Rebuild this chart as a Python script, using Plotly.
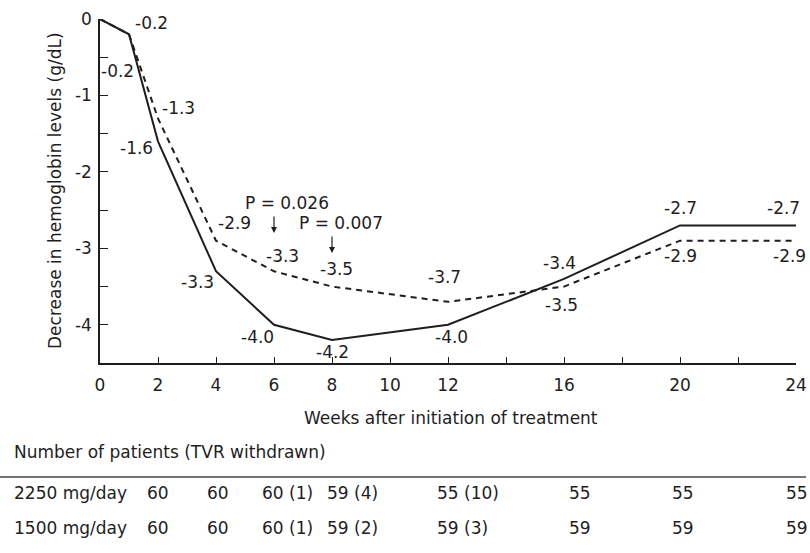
import plotly.graph_objects as go

# ---------------- data ----------------
weeks = [0, 1, 2, 4, 6, 8, 12, 16, 20, 24]
dose_2250 = [0, -0.2, -1.6, -3.3, -4.0, -4.2, -4.0, -3.4, -2.7, -2.7]
dose_1500 = [0, -0.2, -1.3, -2.9, -3.3, -3.5, -3.7, -3.5, -2.9, -2.9]

x_tick_vals = [0, 2, 4, 6, 8, 10, 12, 14, 16, 18, 20, 22, 24]
x_tick_text = ["0", "2", "4", "6", "8", "10", "12", "", "16", "", "20", "", "24"]
y_tick_vals = [0, -1, -2, -3, -4]
y_tick_text = ["0", "-1", "-2", "-3", "-4"]

p_labels = ["P = 0.026", "P = 0.007"]
p_weeks = [6, 8]

table_title = "Number of patients (TVR withdrawn)"
row_names = ["2250 mg/day", "1500 mg/day"]
row_2250 = ["60", "60", "60 (1)", "59 (4)", "55 (10)", "55", "55", "55"]
row_1500 = ["60", "60", "60 (1)", "59 (2)", "59 (3)", "59", "59", "59"]

# ---------------- layout constants ----------------
W, H = 810, 553
ML, MR, MT, MB = 100, 14, 19, 190
PW, PH = W - ML - MR, H - MT - MB
FONT = "DejaVu Sans"
FS = 17
INK = "#1e1e1e"


def px_x(p):
    return (p - ML) / PW


def px_y(p):
    return (H - MB - p) / PH


def txt(**kw):
    d = dict(showarrow=False, xanchor="center", yanchor="middle",
             font=dict(family=FONT, size=FS, color=INK))
    d.update(kw)
    return d


# label pixel offsets (dx, dy-down) for points 1..9
off_2250 = [(22, -11), (-22, 7), (-19, 11), (-17, 12), (0, 12), (3, 12), (-5, -16), (0, -17), (-13, -17)]
off_1500 = [(-12, 37), (20, -10), (18, -18), (8, -15), (4, -18), (-4, -25), (-3, 18), (0, 15), (-7, 15)]

fig = go.Figure()
fig.add_trace(go.Scatter(x=weeks, y=dose_2250, mode="lines", name="2250 mg/day",
                         line=dict(color=INK, width=2)))
fig.add_trace(go.Scatter(x=weeks, y=dose_1500, mode="lines", name="1500 mg/day",
                         line=dict(color=INK, width=2, dash="6px,5px")))

ann = []
for series, offs in ((dose_2250, off_2250), (dose_1500, off_1500)):
    for i, (dx, dy) in zip(range(1, len(weeks)), offs):
        ann.append(txt(x=weeks[i], y=series[i], xref="x", yref="y", text=f"{series[i]:.1f}",
                       xshift=dx, yshift=-dy))

# P-value labels and arrows
p_text_pos = [(287, 203), (341, 223)]
p_arrow_tip = [233, 253]
for lab, wk, (tx, ty), tip in zip(p_labels, p_weeks, p_text_pos, p_arrow_tip):
    ann.append(txt(x=px_x(tx), y=px_y(ty), xref="paper", yref="paper", text=lab))
    ann.append(dict(x=wk, y=px_y(tip), xref="x", yref="paper", text="", showarrow=True,
                    ax=0, ay=-18, arrowhead=2, arrowsize=1, arrowwidth=1.2, arrowcolor=INK))

# axis titles
ann.append(txt(x=px_x(55), y=px_y(191), xref="paper", yref="paper",
               text="Decrease in hemoglobin levels (g/dL)", textangle=-90))
ann.append(txt(x=px_x(451), y=px_y(418), xref="paper", yref="paper",
               text="Weeks after initiation of treatment"))

# table
ann.append(txt(x=px_x(12), y=px_y(452), xref="paper", yref="paper", text=table_title, xanchor="left"))
col_left_px = [145, 205, 260, 325, 435, 567, 670, 784]
row_y_px = [493, 528]
for name, row, ry in zip(row_names, (row_2250, row_1500), row_y_px):
    ann.append(txt(x=px_x(12), y=px_y(ry), xref="paper", yref="paper", text=name, xanchor="left"))
    for val, cx in zip(row, col_left_px):
        ann.append(txt(x=px_x(cx), y=px_y(ry), xref="paper", yref="paper", text=val, xanchor="left"))

shapes = [dict(type="line", xref="paper", yref="paper", x0=px_x(0), x1=px_x(806),
               y0=px_y(477), y1=px_y(477), line=dict(color="#444", width=1.5))]

fig.update_layout(
    width=W, height=H, margin=dict(l=ML, r=MR, t=MT, b=MB, autoexpand=False),
    paper_bgcolor="white", plot_bgcolor="white", showlegend=False,
    font=dict(family=FONT, size=FS, color=INK),
    annotations=ann, shapes=shapes,
    xaxis=dict(range=[0, 24], tickvals=x_tick_vals, ticktext=x_tick_text, ticks="inside",
               ticklen=6, tickwidth=1.2, tickcolor=INK, showline=True, linecolor=INK, linewidth=1.5,
               showgrid=False, zeroline=False, ticklabelstandoff=6),
    yaxis=dict(range=[-4.5, 0], tickvals=y_tick_vals, ticktext=y_tick_text, ticks="inside",
               ticklen=8, tickwidth=1.2, tickcolor=INK, showline=True, linecolor=INK, linewidth=1.5,
               showgrid=False, zeroline=False, ticklabelstandoff=3,
               minor=dict(dtick=0.5, tick0=0, ticks="inside", ticklen=8, tickwidth=1.2, tickcolor=INK)),
)

fig.write_html("out.html", config={"displayModeBar": False},
               post_script="document.body.style.margin='0px';document.body.style.overflow='hidden';")
